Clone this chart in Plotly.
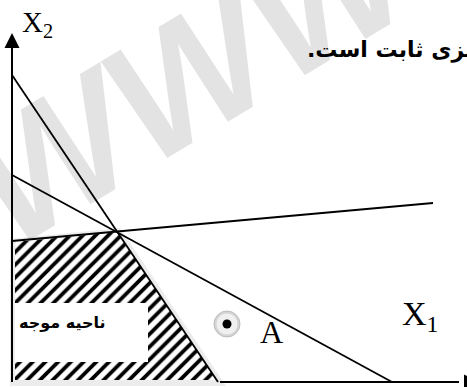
import plotly.graph_objects as go

# ---- data (diagram units, origin at the corner of the axes) ----
line1_x1 = [0, 206]
line1_x2 = [307, 0]
line2_x1 = [0, 380]
line2_x2 = [207, 0]
line3_x1 = [0, 421]
line3_x2 = [141, 179]
region_x1 = [3, 3, 105, 205]
region_x2 = [2, 140, 150, 2]
shadow_x1 = [-2, -2, 108, 214]
shadow_x2 = [-4, 143, 154, -4]
point_A = [215, 58]
xaxis_end = 455
yaxis_end = 349
x_axis_start = 208
box_x1 = [3, 136]
box_x2 = [20, 79]

label_x1 = "X<sub>1</sub>"
label_x2 = "X<sub>2</sub>"
label_A = "A"
label_region = "ناحیه موجه"
top_text = "ریزی ثابت است.\u200f"
watermark = "WWW"

W, H = 467, 387

fig = go.Figure()

# shadow behind feasible region
fig.add_trace(go.Scatter(x=shadow_x1, y=shadow_x2, fill="toself", mode="lines",
                         line=dict(width=0, color="rgba(0,0,0,0)"),
                         fillcolor="#ececec", hoverinfo="skip"))
# hatched feasible region
fig.add_trace(go.Scatter(x=region_x1, y=region_x2, fill="toself", mode="lines",
                         line=dict(width=0, color="rgba(0,0,0,0)"),
                         fillcolor="white",
                         fillpattern=dict(shape="/", fgcolor="black", bgcolor="white",
                                          fgopacity=1, size=9, solidity=0.42),
                         hoverinfo="skip"))

# constraint lines
for xs, ys in [(line1_x1, line1_x2), (line2_x1, line2_x2), (line3_x1, line3_x2)]:
    fig.add_trace(go.Scatter(x=xs, y=ys, mode="lines",
                             line=dict(color="black", width=1.8), hoverinfo="skip"))

# axes
fig.add_trace(go.Scatter(x=[0, 0], y=[0, yaxis_end - 8], mode="lines",
                         line=dict(color="black", width=2), hoverinfo="skip"))
fig.add_trace(go.Scatter(x=[x_axis_start, xaxis_end - 8], y=[0, 0], mode="lines",
                         line=dict(color="black", width=2), hoverinfo="skip"))
fig.add_trace(go.Scatter(x=[0], y=[yaxis_end], mode="markers",
                         marker=dict(symbol="arrow-up", size=15, color="black",
                                     line=dict(width=0)), hoverinfo="skip"))
fig.add_trace(go.Scatter(x=[xaxis_end + 12], y=[0], mode="markers",
                         marker=dict(symbol="arrow-right", size=15, color="black",
                                     line=dict(width=0)), hoverinfo="skip"))

# point A
fig.add_trace(go.Scatter(x=[point_A[0]], y=[point_A[1]], mode="markers",
                         marker=dict(size=26, color="#d4d4d4",
                                     line=dict(color="#bdbdbd", width=1)), hoverinfo="skip"))
fig.add_trace(go.Scatter(x=[point_A[0]], y=[point_A[1]], mode="markers",
                         marker=dict(size=21, color="#f0f0f0", line=dict(width=0)),
                         hoverinfo="skip"))
fig.add_trace(go.Scatter(x=[point_A[0]], y=[point_A[1]], mode="markers",
                         marker=dict(size=9, color="black", line=dict(width=0)),
                         hoverinfo="skip"))

# white box in the region
fig.add_shape(type="rect", x0=box_x1[0], x1=box_x1[1], y0=box_x2[0], y1=box_x2[1],
              fillcolor="white", line=dict(width=0), layer="above")

serif = "Liberation Serif, Times New Roman, serif"
fig.add_annotation(x=8, y=358, text=label_x2, showarrow=False, xanchor="left",
                   yanchor="middle", font=dict(family=serif, size=29, color="black"))
fig.add_annotation(x=388, y=66, text=label_x1, showarrow=False, xanchor="left",
                   yanchor="middle", font=dict(family=serif, size=34, color="black"))
fig.add_annotation(x=246, y=50, text=label_A, showarrow=False, xanchor="left",
                   yanchor="middle", font=dict(family=serif, size=32, color="black"))
fig.add_annotation(x=5, y=60, text=label_region, showarrow=False, xanchor="left",
                   yanchor="middle",
                   font=dict(family="DejaVu Sans", size=16, color="black", weight="bold"))
fig.add_annotation(x=305 / W, y=1 - 50 / H, xref="paper", yref="paper",
                   text=top_text, showarrow=False, xanchor="left", yanchor="middle",
                   font=dict(family="DejaVu Sans", size=22, color="black", weight="bold"))
# watermark
fig.add_annotation(x=182, y=309, text=watermark, showarrow=False, textangle=-31,
                   font=dict(family="Liberation Sans, Arial", size=170, style="italic",
                             color="rgba(0,0,0,0.11)", weight="bold"))

fig.update_layout(width=W, height=H, margin=dict(l=0, r=0, t=0, b=0),
                  paper_bgcolor="white", plot_bgcolor="white", showlegend=False,
                  xaxis=dict(range=[-12, 455], visible=False, fixedrange=True),
                  yaxis=dict(range=[-5, 382], visible=False, fixedrange=True))

fig.write_html("out.html", config={"displayModeBar": False},
               post_script="document.body.style.margin='0';")
